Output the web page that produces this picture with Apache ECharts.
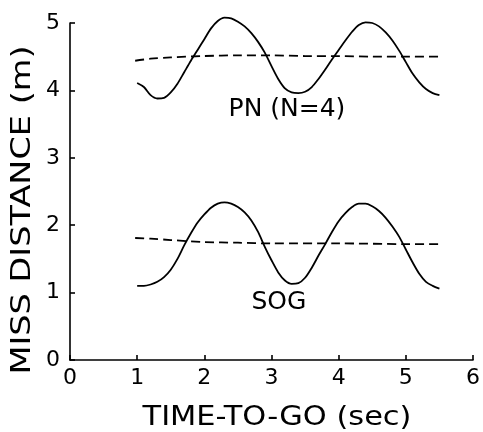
<!DOCTYPE html>
<html><head><meta charset="utf-8">
<script src="https://cdn.jsdelivr.net/npm/echarts@6/dist/echarts.min.js"></script>
<style>html,body{margin:0;padding:0;background:#fff}#c{width:483px;height:432px}</style>
</head><body><div id="c"></div>
<script>
var xTicks = [0, 1, 2, 3, 4, 5, 6];
var yTicks = [0, 1, 2, 3, 4, 5];
var xLabel = 'TIME-TO-GO (sec)';
var yLabel = 'MISS DISTANCE (m)';
var pnSolidX = [1.0,1.1,1.2,1.3,1.4,1.5,1.6,1.7,1.8,1.9,2.0,2.1,2.2,2.3,2.4,2.5,2.6,2.7,2.8,2.9,3.0,3.1,3.2,3.3,3.4,3.5,3.6,3.7,3.8,3.9,4.0,4.1,4.2,4.3,4.4,4.5,4.6,4.7,4.8,4.9,5.0,5.1,5.2,5.3,5.4,5.5];
var pnSolidY = [4.11,4.05,3.93,3.88,3.89,3.97,4.10,4.27,4.44,4.60,4.76,4.92,5.03,5.08,5.07,5.02,4.95,4.85,4.72,4.56,4.36,4.17,4.03,3.97,3.96,3.98,4.05,4.17,4.31,4.46,4.60,4.74,4.87,4.97,5.01,5.00,4.95,4.86,4.74,4.59,4.42,4.25,4.12,4.02,3.96,3.93];
var pnDashX = [0.97,1.2,1.5,2.0,2.5,3.0,3.5,4.0,4.5,5.0,5.5];
var pnDashY = [4.44,4.47,4.49,4.51,4.52,4.52,4.51,4.51,4.50,4.50,4.50];
var sogSolidX = pnSolidX;
var sogSolidY = [1.10,1.10,1.12,1.16,1.23,1.34,1.50,1.70,1.88,2.04,2.16,2.26,2.32,2.34,2.32,2.27,2.19,2.07,1.90,1.68,1.48,1.30,1.18,1.13,1.14,1.22,1.37,1.55,1.72,1.90,2.06,2.18,2.27,2.32,2.32,2.28,2.21,2.11,1.98,1.83,1.64,1.45,1.28,1.16,1.10,1.06];
var sogDashX = [0.97,1.2,1.5,2.0,2.5,3.0,4.0,5.0,5.5];
var sogDashY = [1.81,1.80,1.78,1.75,1.74,1.73,1.73,1.72,1.72];
var annotations = [{text: 'PN (N=4)', x: 3.23, y: 3.71}, {text: 'SOG', x: 3.11, y: 0.85}];

function zip(a, b) { return a.map(function (v, i) { return [v, b[i]]; }); }
var FONT = 'DejaVu Sans';
var chart = echarts.init(document.getElementById('c'));
var axisCommon = {
  axisLine: {show: true, onZero: false, lineStyle: {color: '#000', width: 1.6}},
  axisTick: {show: true, inside: true, length: 5, lineStyle: {color: '#000', width: 1.6}},
  splitLine: {show: false},
  axisLabel: {color: '#000', fontFamily: FONT, fontSize: 22}
};
function lineSeries(data, dashed) {
  return {type: 'line', data: data, showSymbol: false, smooth: 0.3, silent: true, clip: false,
    lineStyle: {color: '#000', width: 1.8, type: dashed ? [9, 5] : 'solid'}};
}
chart.setOption({
  animation: false,
  backgroundColor: '#fff',
  grid: {left: 70, right: 10, top: 23, bottom: 72},
  xAxis: Object.assign({}, axisCommon, {
    type: 'value', min: xTicks[0], max: xTicks[xTicks.length - 1], interval: 1,
    axisLabel: Object.assign({}, axisCommon.axisLabel, {margin: 7})
  }),
  yAxis: Object.assign({}, axisCommon, {
    type: 'value', min: yTicks[0], max: yTicks[yTicks.length - 1], interval: 1,
    axisLabel: Object.assign({}, axisCommon.axisLabel, {margin: 10})
  }),
  series: [
    lineSeries(zip(pnSolidX, pnSolidY), false),
    lineSeries(zip(pnDashX, pnDashY), true),
    lineSeries(zip(sogSolidX, sogSolidY), false),
    lineSeries(zip(sogDashX, sogDashY), true)
  ]
});
var g = annotations.map(function (a) {
  var p = chart.convertToPixel({gridIndex: 0}, [a.x, a.y]);
  return {type: 'text', x: p[0], y: p[1],
    style: {text: a.text, fill: '#000', font: '25px "DejaVu Sans"', textAlign: 'center', textVerticalAlign: 'middle'}};
});
g.push({type: 'text', x: 277, y: 418, scaleX: 1.17,
  style: {text: xLabel, fill: '#000', font: '26px "DejaVu Sans"', textAlign: 'center', textVerticalAlign: 'middle'}});
g.push({type: 'text', x: 23, y: 210, rotation: Math.PI / 2, scaleX: 1.29,
  style: {text: yLabel, fill: '#000', font: '26px "DejaVu Sans"', textAlign: 'center', textVerticalAlign: 'middle'}});
chart.setOption({graphic: g});
</script></body></html>
